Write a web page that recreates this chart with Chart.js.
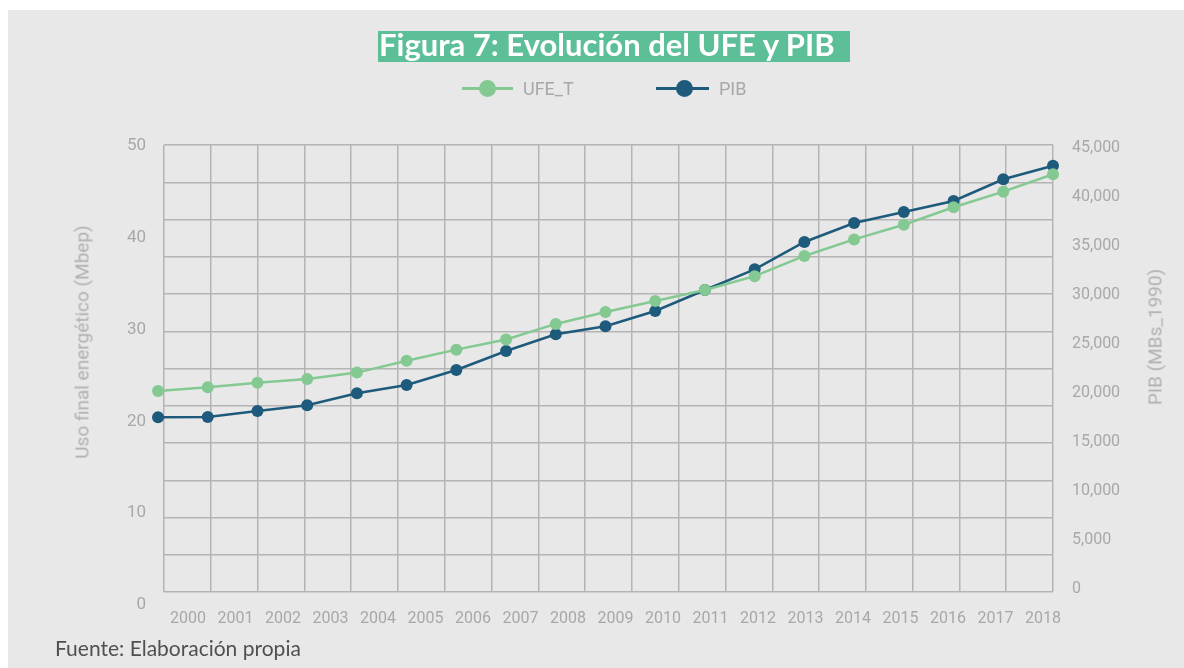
<!DOCTYPE html>
<html lang="es">
<head>
<meta charset="utf-8">
<title>Figura 7: Evolución del UFE y PIB</title>
<script src="https://cdn.jsdelivr.net/npm/chart.js@4.4.1/dist/chart.umd.min.js"></script>
<style>
    html, body { margin: 0; padding: 0; background: #fff; }
    body { width: 1184px; height: 668px; position: relative; overflow: hidden; font-family: Roboto, sans-serif; }
    #panel { position: absolute; left: 8px; top: 10px; right: 0; bottom: 0; background: #e8e8e8; }
    #chart { position: absolute; left: 0; top: 0; }
    .fig-title { position: absolute; left: 378px; top: 31px; width: 471px; height: 31px; padding-left: 1px;
        background: #5cbf97; color: #fff; font: bold 31px Lato, sans-serif; line-height: 27px; white-space: nowrap; }
    .leg-line { position: absolute; height: 3px; }
    .leg-dot { position: absolute; width: 17px; height: 17px; border-radius: 50%; }
    .leg-text { position: absolute; top: 79px; font-size: 18px; line-height: 20px; color: #a8a8a8; }
    .axis-title { position: absolute; font-size: 19px; color: #b0b0b0; white-space: nowrap;
        transform: translate(-50%, -50%) rotate(-90deg); }
    .source { position: absolute; left: 55px; top: 635px; font: 21px Lato, sans-serif; line-height: 25px; color: #505050; }
</style>
</head>
<body>
<div id="panel"></div>
<canvas id="chart" width="1184" height="668"></canvas>
<div class="fig-title">Figura 7: Evolución del UFE y PIB</div>

<div class="leg-line" style="left:462px; top:87px; width:51px; background:#84c992;"></div>
<div class="leg-dot" style="left:479px; top:80px; background:#84c992;"></div>
<div class="leg-text" style="left:523px;">UFE_T</div>
<div class="leg-line" style="left:656px; top:87px; width:53px; background:#1e5a7b;"></div>
<div class="leg-dot" style="left:676px; top:80px; background:#1e5a7b;"></div>
<div class="leg-text" style="left:719px;">PIB</div>

<div class="axis-title" style="left:82px; top:342px;">Uso final energético (Mbep)</div>
<div class="axis-title" style="left:1155px; top:337px;">PIB (MBs_1990)</div>
<div class="source">Fuente: Elaboración propia</div>

<script>
// data
const years = [2000, 2001, 2002, 2003, 2004, 2005, 2006, 2007, 2008, 2009,
               2010, 2011, 2012, 2013, 2014, 2015, 2016, 2017, 2018];
const ufe = [23.3, 23.7, 24.2, 24.6, 25.3, 26.6, 27.8, 28.9, 30.6, 31.9,
             33.1, 34.3, 35.8, 38.0, 39.8, 41.4, 43.3, 45.0, 46.9];
const pib = [17520, 17540, 18160, 18750, 19970, 20820, 22350, 24290, 25990, 26810,
             28370, 30510, 32620, 35410, 37350, 38470, 39590, 41810, 43190];
const ufeTicks = [0, 10, 20, 30, 40, 50];
const pibTicks = [0, 5000, 10000, 15000, 20000, 25000, 30000, 35000, 40000, 45000];

const green = '#84c992';
const blue = '#1e5a7b';
const gridColor = '#b4b4b4';
const tickFont = { family: 'Roboto', size: 16 };
const tickColor = '#a8a8a8';

document.addEventListener('DOMContentLoaded', () => {
    const ctx = document.getElementById('chart');

    new Chart(ctx, {
        type: 'line',
        data: {
            datasets: [{
                label: 'UFE_T',
                data: years.map((y, i) => ({ x: y, y: ufe[i] })),
                xAxisID: 'x',
                yAxisID: 'y',
                borderColor: green,
                backgroundColor: green,
                borderWidth: 2.5,
                pointRadius: 6,
                pointBorderWidth: 0,
                clip: false
            }, {
                label: 'PIB',
                data: years.map((y, i) => ({ x: y, y: pib[i] })),
                xAxisID: 'x',
                yAxisID: 'y1',
                borderColor: blue,
                backgroundColor: blue,
                borderWidth: 2.5,
                pointRadius: 6,
                pointBorderWidth: 0,
                clip: false
            }]
        },
        options: {
            responsive: false,
            animation: false,
            layout: { padding: { top: 145, left: 0, right: 0, bottom: 0 } },
            plugins: {
                legend: { display: false },
                tooltip: { enabled: false }
            },
            scales: {
                // axis the points are placed on
                x: { type: 'linear', display: false, min: 2000.12, max: 2018 },
                // vertical grid lines
                xg: {
                    type: 'linear', position: 'bottom', min: 0, max: 19,
                    ticks: { display: false, count: 20 },
                    grid: { color: gridColor, lineWidth: 1.5, drawTicks: false },
                    border: { display: false },
                    afterFit: (s) => { s.height = 0; }
                },
                // year labels
                xl: {
                    type: 'linear', position: 'bottom', min: 1999.495, max: 2018.21,
                    grid: { display: false, drawTicks: false },
                    border: { display: false },
                    ticks: {
                        font: tickFont, color: tickColor, padding: 17,
                        autoSkip: false, maxRotation: 0,
                        callback: (v) => String(v)
                    },
                    afterBuildTicks: (s) => { s.ticks = years.map(v => ({ value: v })); },
                    afterFit: (s) => { s.height = 76; }
                },
                y: {
                    position: 'left', min: 1.415, max: 50.08,
                    grid: { display: false, drawTicks: false },
                    border: { display: false },
                    ticks: { font: { family: 'Roboto', size: 17 }, color: tickColor, padding: 18 },
                    afterBuildTicks: (s) => { s.ticks = ufeTicks.map(v => ({ value: v })); },
                    afterFit: (s) => { s.width = 164; }
                },
                // horizontal grid lines
                yg: {
                    type: 'linear', position: 'left', min: 0, max: 12,
                    ticks: { display: false, count: 13 },
                    grid: { color: gridColor, lineWidth: 1.5, drawTicks: false },
                    border: { display: false },
                    afterFit: (s) => { s.width = 0; }
                },
                y1: {
                    position: 'right', min: -306, max: 45306,
                    grid: { display: false, drawTicks: false },
                    border: { display: false },
                    ticks: {
                        font: tickFont, color: tickColor, padding: 19,
                        callback: (v) => v.toLocaleString('en-US')
                    },
                    afterBuildTicks: (s) => { s.ticks = pibTicks.map(v => ({ value: v })); },
                    afterFit: (s) => { s.width = 131; }
                }
            }
        }
    });
});
</script>
</body>
</html>
